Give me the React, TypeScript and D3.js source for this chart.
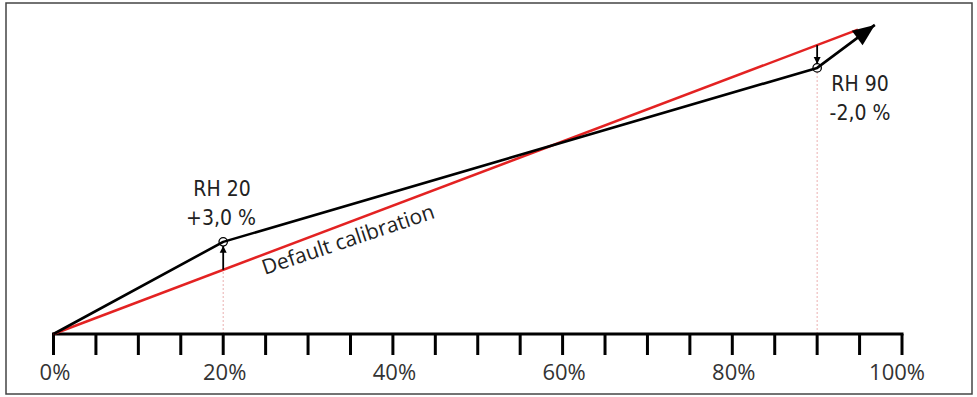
import React from "react";
import * as d3 from "d3";

const tickValues = d3.range(0, 101, 5);
const tickLabels = ["0%", "20%", "40%", "60%", "80%", "100%"];
const labelValues = [0, 20, 40, 60, 80, 100];
const defaultX = [0, 94.8];
const measuredX = [0, 20, 90, 96.8];
const measuredY = [0, 28.7, 82.9, 96.3];
const pointIdx = [1, 2];
const pointNames = ["RH 20", "RH 90"];
const pointDeltas = ["+3,0 %", "-2,0 %"];

const W = 977, H = 397;

export default function App() {
  const x = d3.scaleLinear().domain([0, 100]).range([53.5, 902]);
  const y = d3.scaleLinear().domain([0, 100]).range([334, 13]);
  const line = d3.line<[number, number]>().x(d => x(d[0])).y(d => y(d[1]));
  const measured: [number, number][] = measuredX.map((v, i) => [v, measuredY[i]]);
  const red: [number, number][] = defaultX.map(v => [v, v]);
  const font = "'Open Sans', 'Noto Sans', sans-serif";
  const lcd = "'DejaVu Sans Condensed', 'DejaVu Sans', sans-serif";

  // final arrowhead
  const n = measured.length;
  const p1 = measured[n - 2], p2 = measured[n - 1];
  const ax = x(p2[0]), ay = y(p2[1]);
  const dx = ax - x(p1[0]), dy = ay - y(p1[1]);
  const len = Math.hypot(dx, dy);
  const ux = dx / len, uy = dy / len;
  const L = 22, Wd = 9;
  const bx = ax - ux * L, by = ay - uy * L;
  const head = `M${ax},${ay} L${bx - uy * Wd},${by + ux * Wd} L${bx + uy * Wd},${by - ux * Wd} Z`;

  const textAngle = -18.5;
  const tx = x(24.9), ty = y(24.9) + 21;

  return (
    <svg width={W} height={H} style={{ position: "absolute", left: 0, top: 0, background: "#fff" }}>
      <defs>
        <marker id="ah" viewBox="0 0 10 10" refX="10" refY="5" markerWidth="7" markerHeight="8" markerUnits="userSpaceOnUse" orient="auto">
          <path d="M0,0 L10,5 L0,10 Z" fill="#000" />
        </marker>
      </defs>
      <rect x={6} y={3} width={966} height={391} fill="none" stroke="#444" strokeWidth={1.5} />
      {/* dotted guides */}
      {pointIdx.map((pi, k) => {
        const xv = measuredX[pi];
        const top = k === 0 ? y(xv) : y(measuredY[pi]) + 4;
        return <line key={"g" + k} x1={x(xv)} x2={x(xv)} y1={y(0)} y2={top} stroke="#e59a9a" strokeWidth={0.8} strokeDasharray="2,2" />;
      })}
      {/* axis */}
      <line x1={x(0) - 1.5} x2={x(100) + 1.5} y1={y(0)} y2={y(0)} stroke="#000" strokeWidth={3} />
      {tickValues.map(t => (
        <line key={t} x1={x(t)} x2={x(t)} y1={y(0)} y2={y(0) + 21} stroke="#000" strokeWidth={3} />
      ))}
      {labelValues.map((v, i) => {
        const last = i === labelValues.length - 1;
        return (
          <text key={v} x={last ? x(v) + 23 : x(v) + 1.5} y={380} textAnchor={last ? "end" : "middle"} fontFamily={font} fontSize={22} fill="#333">{tickLabels[i]}</text>
        );
      })}
      {/* default calibration */}
      <path d={line(red) || ""} fill="none" stroke="#e32222" strokeWidth={2.5} />
      <text x={tx} y={ty} transform={`rotate(${textAngle},${tx},${ty})`} fontFamily={font} fontSize={21} fill="#222">Default calibration</text>
      {/* measured */}
      <path d={line(measured) || ""} fill="none" stroke="#000" strokeWidth={2.6} strokeLinejoin="round" />
      <path d={head} fill="#000" />
      {pointIdx.map((pi, k) => {
        const px = x(measuredX[pi]);
        const pyR = y(measuredX[pi]);
        const pyM = y(measuredY[pi]);
        const up = pyM < pyR;
        return (
          <g key={"p" + k}>
            <line x1={px} x2={px} y1={pyR} y2={up ? pyM + 4 : pyM - 4} stroke="#000" strokeWidth={1.8} markerEnd="url(#ah)" />
            <circle cx={px} cy={pyM} r={4.2} fill="none" stroke="#000" strokeWidth={1.3} />
          </g>
        );
      })}
      {/* labels */}
      <text x={222} y={196} textAnchor="middle" fontFamily={lcd} fontSize={21} fill="#222">{pointNames[0]}</text>
      <text x={221} y={225} textAnchor="middle" fontFamily={lcd} fontSize={21} fill="#222">{pointDeltas[0]}</text>
      <text x={860} y={91} textAnchor="middle" fontFamily={lcd} fontSize={21} fill="#222">{pointNames[1]}</text>
      <text x={860} y={120} textAnchor="middle" fontFamily={lcd} fontSize={21} fill="#222">{pointDeltas[1]}</text>
    </svg>
  );
}
